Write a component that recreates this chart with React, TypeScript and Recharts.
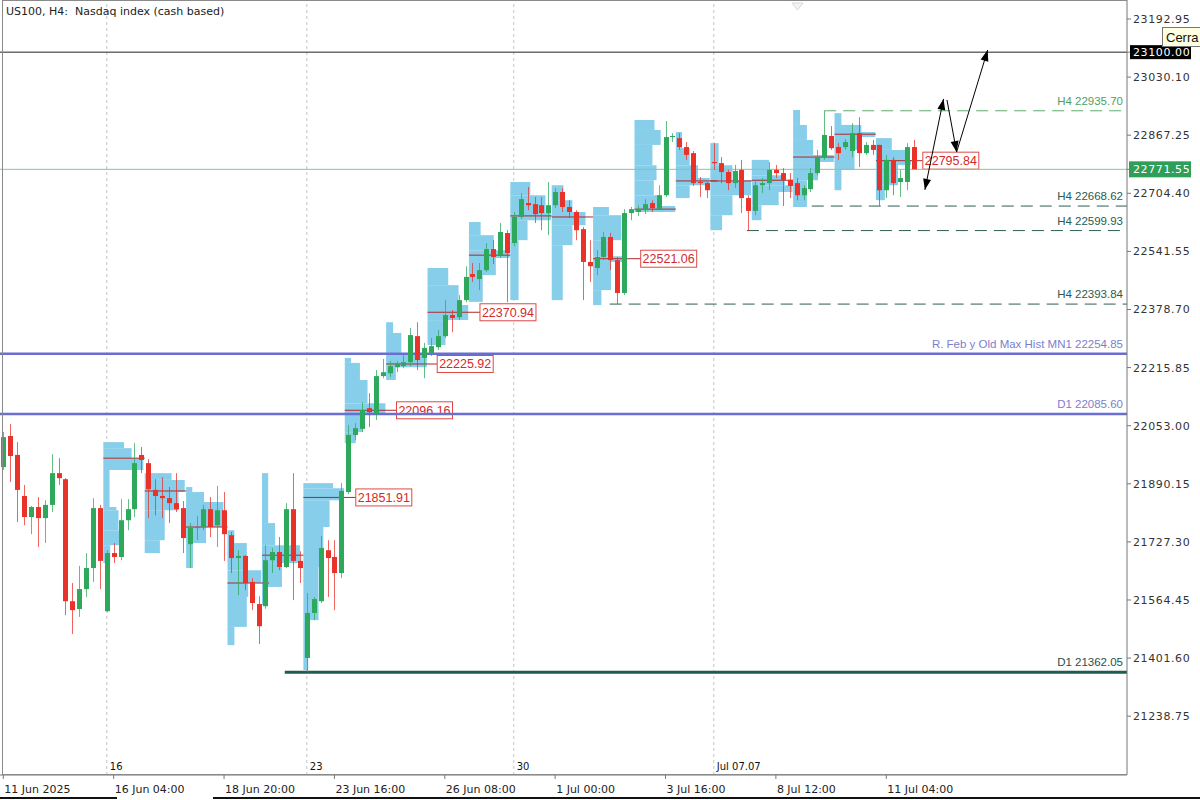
import React from 'react';
import { ComposedChart, Bar, XAxis, YAxis, ReferenceLine, ReferenceArea } from 'recharts';

// H4 candles, US100, 11 Jun - 11 Jul 2025
const opens = [21937, 22024, 21971, 21856, 21797, 21825, 21794, 21831, 21920, 21903, 21561, 21539, 21595, 21654, 21822, 21533, 21696, 21685, 21788, 21819, 21971, 21948, 21873, 21856, 21850, 21836, 21822, 21721, 21766, 21769, 21819, 21774, 21816, 21746, 21682, 21688, 21615, 21553, 21547, 21676, 21699, 21657, 21819, 21674, 21402, 21528, 21561, 21704, 21685, 21640, 21867, 22027, 22044, 22102, 22088, 22192, 22200, 22217, 22220, 22231, 22304, 22243, 22257, 22273, 22304, 22363, 22357, 22405, 22478, 22464, 22489, 22548, 22531, 22593, 22565, 22638, 22677, 22674, 22671, 22649, 22671, 22708, 22666, 22652, 22604, 22512, 22495, 22526, 22582, 22517, 22425, 22649, 22652, 22657, 22677, 22660, 22699, 22862, 22859, 22834, 22817, 22736, 22733, 22792, 22789, 22764, 22733, 22770, 22691, 22655, 22727, 22733, 22770, 22761, 22742, 22733, 22699, 22716, 22761, 22806, 22865, 22834, 22834, 22823, 22873, 22817, 22840, 22840, 22713, 22798, 22736, 22736, 22834];
const highs = [22035, 22058, 22007, 21887, 21828, 21853, 21844, 21973, 21962, 21906, 21612, 21660, 21696, 21850, 21831, 21704, 21724, 21847, 21847, 22004, 21993, 21959, 21903, 21909, 21881, 21920, 21842, 21780, 21800, 21831, 21853, 21884, 21867, 21755, 21704, 21690, 21626, 21575, 21718, 21710, 21741, 21836, 21920, 21701, 21584, 21573, 21744, 21732, 21732, 21892, 22055, 22060, 22119, 22144, 22209, 22240, 22234, 22234, 22251, 22327, 22343, 22285, 22299, 22321, 22405, 22377, 22419, 22500, 22509, 22509, 22565, 22573, 22621, 22601, 22652, 22705, 22722, 22694, 22694, 22736, 22719, 22719, 22685, 22657, 22610, 22573, 22545, 22596, 22593, 22526, 22660, 22666, 22671, 22688, 22685, 22727, 22907, 22873, 22873, 22848, 22823, 22750, 22736, 22845, 22806, 22770, 22784, 22798, 22699, 22742, 22747, 22792, 22784, 22775, 22761, 22747, 22727, 22775, 22826, 22935.7, 22893, 22845, 22856, 22901, 22918, 22848, 22854, 22840, 22812, 22806, 22770, 22845, 22854];
const lows = [21929, 21895, 21783, 21774, 21749, 21713, 21724, 21811, 21887, 21522, 21469, 21517, 21573, 21615, 21595, 21531, 21668, 21676, 21760, 21797, 21920, 21794, 21802, 21794, 21780, 21811, 21696, 21654, 21732, 21760, 21741, 21713, 21674, 21640, 21578, 21592, 21536, 21441, 21540, 21640, 21648, 21654, 21564, 21612, 21362.05, 21508, 21556, 21573, 21536, 21626, 21861, 22013, 22035, 22049, 22069, 22186, 22189, 22203, 22214, 22220, 22209, 22186, 22248, 22265, 22299, 22315, 22349, 22399, 22456, 22433, 22484, 22506, 22523, 22399, 22556, 22632, 22657, 22621, 22601, 22587, 22663, 22652, 22635, 22573, 22405, 22456, 22475, 22517, 22489, 22393.84, 22419, 22629, 22641, 22646, 22652, 22657, 22694, 22848, 22826, 22798, 22725, 22694, 22691, 22770, 22733, 22713, 22719, 22649, 22599.93, 22643, 22705, 22713, 22747, 22668.62, 22691, 22685, 22685, 22708, 22755, 22798, 22826, 22798, 22826, 22806, 22778, 22812, 22812, 22669, 22691, 22699, 22694, 22713, 22803];
const closes = [22021, 21968, 21873, 21797, 21825, 21794, 21831, 21920, 21906, 21561, 21536, 21595, 21654, 21822, 21674, 21696, 21685, 21788, 21819, 21948, 21957, 21875, 21856, 21850, 21836, 21819, 21738, 21766, 21769, 21819, 21769, 21816, 21749, 21682, 21688, 21612, 21556, 21491, 21676, 21699, 21657, 21819, 21674, 21654, 21528, 21567, 21710, 21682, 21640, 21870, 22027, 22046, 22097, 22091, 22192, 22203, 22220, 22226, 22231, 22307, 22237, 22271, 22276, 22304, 22363, 22355, 22405, 22470, 22470, 22489, 22548, 22526, 22596, 22537, 22638, 22688, 22671, 22646, 22649, 22671, 22708, 22666, 22652, 22601, 22512, 22500, 22526, 22582, 22517, 22425, 22649, 22660, 22660, 22674, 22663, 22699, 22862, 22865, 22834, 22812, 22733, 22733, 22713, 22789, 22764, 22733, 22767, 22691, 22655, 22727, 22733, 22770, 22761, 22742, 22725, 22699, 22719, 22761, 22806, 22868, 22831, 22817, 22848, 22873, 22817, 22840, 22826, 22713, 22798, 22733, 22747, 22834, 22771.55];

// daily volume profiles: first bar of the session, blocks [top, bottom, length in bars]
const profileStarts = [15, 21, 27, 33, 38, 44, 50, 56, 62, 68, 74, 80, 86, 92, 98, 103, 109, 115, 121, 127];
const profileBlocks = [
  [[22007, 21990, 3.0], [21990, 21962, 4.1], [21962, 21929, 5.8], [21929, 21825, 0.9], [21825, 21816, 1.9], [21816, 21760, 2.2], [21760, 21718, 3.0], [21718, 21668, 1.0]],
  [[21920, 21901, 3.9], [21901, 21867, 5.8], [21867, 21816, 4.9], [21816, 21732, 2.9], [21732, 21696, 2.2]],
  [[21881, 21867, 0.9], [21867, 21839, 2.6], [21839, 21769, 5.4], [21769, 21724, 2.9], [21724, 21654, 1.0]],
  [[21760, 21724, 1.0], [21724, 21648, 2.8], [21648, 21612, 4.9], [21612, 21573, 3.0], [21573, 21489, 2.8], [21489, 21438, 1.0]],
  [[21920, 21780, 0.9], [21780, 21718, 1.9], [21718, 21668, 5.5], [21668, 21601, 2.9], [21601, 21550, 0.7]],
  [[21892, 21878, 4.3], [21878, 21844, 5.9], [21844, 21769, 3.8], [21769, 21657, 2.9], [21657, 21508, 2.2], [21508, 21368, 0.7]],
  [[22243, 22229, 0.9], [22229, 22181, 2.2], [22181, 22116, 3.3], [22116, 22083, 5.9], [22083, 22035, 2.6], [22035, 22004, 1.6]],
  [[22343, 22313, 1.0], [22313, 22257, 2.2], [22257, 22217, 5.9], [22217, 22181, 1.4]],
  [[22495, 22447, 3.0], [22447, 22391, 4.5], [22391, 22349, 5.9], [22349, 22279, 2.6]],
  [[22624, 22587, 1.7], [22587, 22545, 3.6], [22545, 22523, 5.9], [22523, 22475, 3.9], [22475, 22400, 2.0]],
  [[22736, 22699, 2.9], [22699, 22649, 5.1], [22649, 22629, 5.9], [22629, 22573, 2.5], [22573, 22405, 1.2]],
  [[22727, 22685, 1.7], [22685, 22652, 3.0], [22652, 22615, 4.9], [22615, 22559, 3.0], [22559, 22405, 1.6]],
  [[22666, 22643, 2.3], [22643, 22573, 4.1], [22573, 22528, 2.3], [22528, 22512, 4.3], [22512, 22433, 2.6], [22433, 22391, 1.2]],
  [[22910, 22882, 2.9], [22882, 22840, 3.8], [22840, 22783, 2.6], [22783, 22741, 3.2], [22741, 22699, 2.8], [22699, 22669, 3.9], [22669, 22652, 5.9]],
  [[22876, 22831, 0.9], [22831, 22783, 2.0], [22783, 22747, 3.2], [22747, 22727, 4.9], [22727, 22691, 2.0]],
  [[22845, 22783, 1.2], [22783, 22741, 3.2], [22741, 22699, 5.9], [22699, 22643, 3.2], [22643, 22601, 1.7]],
  [[22798, 22755, 2.5], [22755, 22727, 4.8], [22727, 22708, 5.9], [22708, 22671, 3.9], [22671, 22629, 1.4]],
  [[22938, 22896, 1.0], [22896, 22854, 2.0], [22854, 22812, 2.9], [22812, 22792, 5.9], [22792, 22741, 3.6], [22741, 22666, 2.0]],
  [[22929, 22896, 1.0], [22896, 22876, 3.9], [22876, 22862, 5.9], [22862, 22826, 3.9], [22826, 22770, 2.9], [22770, 22713, 1.0]],
  [[22859, 22826, 2.3], [22826, 22798, 4.6], [22798, 22784, 5.1], [22784, 22727, 3.2], [22727, 22685, 1.3]],
];
const profilePocs = [21962, 21870, 21769, 21612, 21690, 21851.91, 22096.16, 22225.92, 22370.94, 22531, 22641, 22638, 22521.06, 22660, 22739, 22739, 22741, 22806, 22870, 22795.84];
// POCs that carry a price box, and the bar where the box starts
const labeledPocs = [5, 6, 7, 8, 12, 19];
const labelBars = [51.1, 57.0, 62.9, 69.1, 92.4, 133.3];

const h4Levels = [22935.70, 22668.62, 22599.93, 22393.84];
const h4FromBars = [119, 117.2, 107.8, 87.9];
const roundLevel = 23100.0;
const lastPrice = 22771.55;
const monthlyLevel = 22254.85;
const d1Upper = 22085.60;
const d1Lower = 21362.05;
const d1LowerFrom = 40.8;

// projected path drawn on the chart: [x1, price1, x2, price2, head at start]
const arrows = [
  [133.6, 22714, 136.3, 22969, 1],
  [136.8, 22966, 138.2, 22820, 0],
  [138.2, 22820, 142.7, 23106, 0],
];

const priceTicks = [23192.95, 23030.10, 22867.25, 22704.40, 22541.55, 22378.70, 22215.85, 22053.00, 21890.15, 21727.30, 21564.45, 21401.60, 21238.75];
const timeTicks = [0, 16, 32, 48, 64, 80, 96, 112, 128];
const timeLabels = ['11 Jun 2025', '16 Jun 04:00', '18 Jun 20:00', '23 Jun 16:00', '26 Jun 08:00', '1 Jul 00:00', '3 Jul 16:00', '8 Jul 12:00', '11 Jul 04:00'];
const weekBars = [15, 44, 74, 103];
const weekLabels = ['16', '23', '30', 'Jul 07.07'];

const GREEN = '#2ea85a';
const RED = '#e8322a';
const SKY = '#87ceeb';
const AXIS_FONT = 'DejaVu Sans, sans-serif';
const LABEL_FONT = 'Liberation Sans, Arial, sans-serif';

const candles = opens.map((o, i) => ({ i, o, h: highs[i], l: lows[i], c: closes[i], range: [lows[i], highs[i]] }));

function Candle(props: any) {
  const { x, y, width, height, payload } = props;
  if (x == null || payload == null) return null;
  const top = Math.min(y, y + height);
  const bot = Math.max(y, y + height);
  const { o, h, l, c } = payload;
  const k = h === l ? 0 : (bot - top) / (h - l);
  const py = (p: number) => top + (h - p) * k;
  const color = c >= o ? GREEN : RED;
  const cx = Math.round(x + width / 2) + 0.5;
  const bTop = py(Math.max(o, c));
  const bBot = py(Math.min(o, c));
  return (
    <g>
      <line x1={cx} x2={cx} y1={top} y2={bot} stroke={color} strokeOpacity={0.75} strokeWidth={1} />
      <rect x={cx - 2.5} y={bTop} width={5} height={Math.max(1, bBot - bTop)} fill={color} />
    </g>
  );
}

function PriceTick(props: any) {
  const { x, y, payload } = props;
  const v = payload.value;
  if (v === roundLevel) {
    return (
      <g>
        <rect x={x - 3} y={y - 7} width={61} height={14} fill="#000" />
        <text x={x} y={y + 4} fill="#fff" fontSize={11} fontFamily={AXIS_FONT} letterSpacing={0.6}>23100.00</text>
      </g>
    );
  }
  if (v === lastPrice) {
    return (
      <g>
        <rect x={x - 4} y={y - 8} width={62} height={16} fill="#2e9e58" />
        <text x={x} y={y + 4} fill="#fff" fontSize={11} fontFamily={AXIS_FONT} letterSpacing={0.6}>22771.55</text>
      </g>
    );
  }
  return (
    <text x={x} y={y + 4} fill="#333" fontSize={11} fontFamily={AXIS_FONT} letterSpacing={0.6}>{v.toFixed(2)}</text>
  );
}

function TimeTick(props: any) {
  const { x, y, payload } = props;
  const k = timeTicks.indexOf(payload.value);
  return (
    <text x={x + 1} y={y + 12} fill="#222" fontSize={11} fontFamily={AXIS_FONT}>{timeLabels[k]}</text>
  );
}

function levelShape(color: string, width: number, dash: string | undefined, text: string | null, textColor: string) {
  return (p: any) => (
    <g>
      <line x1={p.x1} y1={p.y1} x2={p.x2} y2={p.y2} stroke={color} strokeWidth={width} strokeDasharray={dash} />
      {text ? (
        <text x={p.x2 - 4} y={p.y1 - 6} textAnchor="end" fill={textColor} fontSize={11.5} fontFamily={LABEL_FONT}>{text}</text>
      ) : null}
    </g>
  );
}

function pocShape(label: string | null) {
  return (p: any) => (
    <g>
      <line x1={p.x1} y1={p.y1} x2={p.x2} y2={p.y2} stroke="#b02828" strokeWidth={1} />
      {label ? (
        <g>
          <rect x={p.x2} y={p.y1 - 8.5} width={56} height={17} fill="#fff" stroke="#e04848" strokeWidth={1} />
          <text x={p.x2 + 28} y={p.y1 + 4.5} textAnchor="middle" fill="#d42a2a" fontSize={12.5} fontFamily={LABEL_FONT}>{label}</text>
        </g>
      ) : null}
    </g>
  );
}

function arrowShape(headStart: boolean) {
  return (p: any) => {
    const head = (tx: number, ty: number, fx: number, fy: number) => {
      const a = Math.atan2(ty - fy, tx - fx);
      const L = 11;
      const W = 4;
      const bx = tx - L * Math.cos(a);
      const by = ty - L * Math.sin(a);
      const pts = [
        [tx, ty],
        [bx + W * Math.sin(a), by - W * Math.cos(a)],
        [bx - W * Math.sin(a), by + W * Math.cos(a)],
      ];
      return <polygon points={pts.map((q) => q.join(',')).join(' ')} fill="#000" />;
    };
    return (
      <g>
        <line x1={p.x1} y1={p.y1} x2={p.x2} y2={p.y2} stroke="#000" strokeWidth={1} />
        {head(p.x2, p.y2, p.x1, p.y1)}
        {headStart ? head(p.x1, p.y1, p.x2, p.y2) : null}
      </g>
    );
  };
}

function WeekLabel(text: string) {
  return (props: any) => {
    const vb = props.viewBox || {};
    return (
      <text x={vb.x + 3} y={vb.y + vb.height - 5} fill="#111" fontSize={10} fontFamily={AXIS_FONT}>{text}</text>
    );
  };
}

export default function App() {
  const X_MIN = -0.48;
  const X_MAX = 162.9;
  const anyProps = (o: any) => o;
  return (
    <div style={{ position: 'absolute', left: 0, top: 0, width: 1200, height: 800, overflow: 'hidden', background: '#fff' }}>
      <ComposedChart width={1200} height={800} data={candles} margin={{ top: 0, right: 0, bottom: 0, left: 0 }}>
        <XAxis
          dataKey="i"
          type="number"
          domain={[X_MIN, X_MAX]}
          ticks={timeTicks}
          allowDataOverflow
          interval={0}
          height={25}
          tickSize={4}
          tickMargin={2}
          stroke="#777"
          tick={<TimeTick />}
        />
        <YAxis
          orientation="right"
          type="number"
          domain={[21073.9, 23246.2]}
          ticks={[...priceTicks, roundLevel, lastPrice]}
          allowDataOverflow
          interval={0}
          width={73}
          tickSize={4}
          tickMargin={2}
          stroke="#777"
          tick={<PriceTick />}
        />

        {weekBars.map((b, k) => (
          <ReferenceLine key={'w' + k} x={b} stroke="#c4c4c4" strokeDasharray="3 3" label={WeekLabel(weekLabels[k])} {...anyProps({ zIndex: 10 })} />
        ))}

        {profileStarts.flatMap((s, k) =>
          profileBlocks[k].map((blk, j) => (
            <ReferenceArea
              key={'p' + k + '-' + j}
              x1={s - 0.5}
              x2={s - 0.5 + blk[2]}
              y1={blk[1]}
              y2={blk[0]}
              fill={SKY}
              fillOpacity={1}
              stroke="none"
              {...anyProps({ zIndex: 20 })}
            />
          ))
        )}

        {profileStarts.map((s, k) => {
          const li = labeledPocs.indexOf(k);
          const end = li >= 0 ? labelBars[li] : s + 5.5;
          return (
            <ReferenceLine
              key={'poc' + k}
              segment={[{ x: s - 0.5, y: profilePocs[k] }, { x: end, y: profilePocs[k] }]}
              shape={pocShape(li >= 0 ? profilePocs[k].toFixed(2) : null)}
              {...anyProps({ zIndex: 30 })}
            />
          );
        })}

        <ReferenceLine segment={[{ x: X_MIN, y: roundLevel }, { x: X_MAX, y: roundLevel }]} shape={levelShape('#222', 1, undefined, null, '#000')} {...anyProps({ zIndex: 40 })} />
        <ReferenceLine segment={[{ x: X_MIN, y: lastPrice }, { x: X_MAX, y: lastPrice }]} shape={levelShape('#8cc596', 1, undefined, null, '#000')} {...anyProps({ zIndex: 40 })} />
        <ReferenceLine segment={[{ x: X_MIN, y: monthlyLevel }, { x: X_MAX, y: monthlyLevel }]} shape={levelShape('#6a6ed2', 2.5, undefined, 'R. Feb y Old Max Hist MN1 22254.85', '#7c80cc')} {...anyProps({ zIndex: 40 })} />
        <ReferenceLine segment={[{ x: X_MIN, y: d1Upper }, { x: X_MAX, y: d1Upper }]} shape={levelShape('#6a6ed2', 2.5, undefined, 'D1 22085.60', '#7c80cc')} {...anyProps({ zIndex: 40 })} />
        <ReferenceLine segment={[{ x: d1LowerFrom, y: d1Lower }, { x: X_MAX, y: d1Lower }]} shape={levelShape('#1d5c4f', 3, undefined, 'D1 21362.05', '#2b4f47')} {...anyProps({ zIndex: 40 })} />
        {h4Levels.map((lv, k) => (
          <ReferenceLine
            key={'h4' + k}
            segment={[{ x: h4FromBars[k], y: lv }, { x: X_MAX, y: lv }]}
            shape={levelShape(k === 0 ? '#5fae6c' : '#2d5e52', 1, '12 7', 'H4 ' + lv.toFixed(2), k === 0 ? '#4f9f5f' : '#2b5b4f')}
            {...anyProps({ zIndex: 40 })}
          />
        ))}

        <Bar dataKey="range" barSize={5} isAnimationActive={false} shape={(p: any) => <Candle {...p} />} {...anyProps({ zIndex: 1000 })} />

        {arrows.map((a, k) => (
          <ReferenceLine key={'a' + k} segment={[{ x: a[0], y: a[1] }, { x: a[2], y: a[3] }]} shape={arrowShape(a[4] === 1)} {...anyProps({ zIndex: 1100 })} />
        ))}
      </ComposedChart>

      <div style={{ position: 'absolute', left: 2, top: 0, width: 1125, height: 775, border: '1px solid #8a8a8a', borderRight: 'none', boxSizing: 'border-box', pointerEvents: 'none' }} />
      <div style={{ position: 'absolute', left: 6, top: 5, fontFamily: AXIS_FONT, fontSize: 11, color: '#222', whiteSpace: 'pre' }}>
        {'US100, H4:  Nasdaq index (cash based)'}
      </div>
      <svg style={{ position: 'absolute', left: 791, top: 2 }} width={13} height={10}>
        <polygon points="1,1 12,1 6.5,8" fill="#f4f4f4" stroke="#d8d8d8" strokeWidth={1} />
      </svg>
      <div style={{ position: 'absolute', left: 1162, top: 27, width: 50, height: 20, background: '#ffffe1', border: '1px solid #767676', fontFamily: LABEL_FONT, fontSize: 13, color: '#111', lineHeight: '20px', paddingLeft: 3, boxSizing: 'border-box' }}>
        Cerra
      </div>
      <div style={{ position: 'absolute', left: 0, top: 797, width: 117, height: 2, background: '#111' }} />
      <div style={{ position: 'absolute', left: 213, top: 797, width: 987, height: 2, background: '#111' }} />
    </div>
  );
}
